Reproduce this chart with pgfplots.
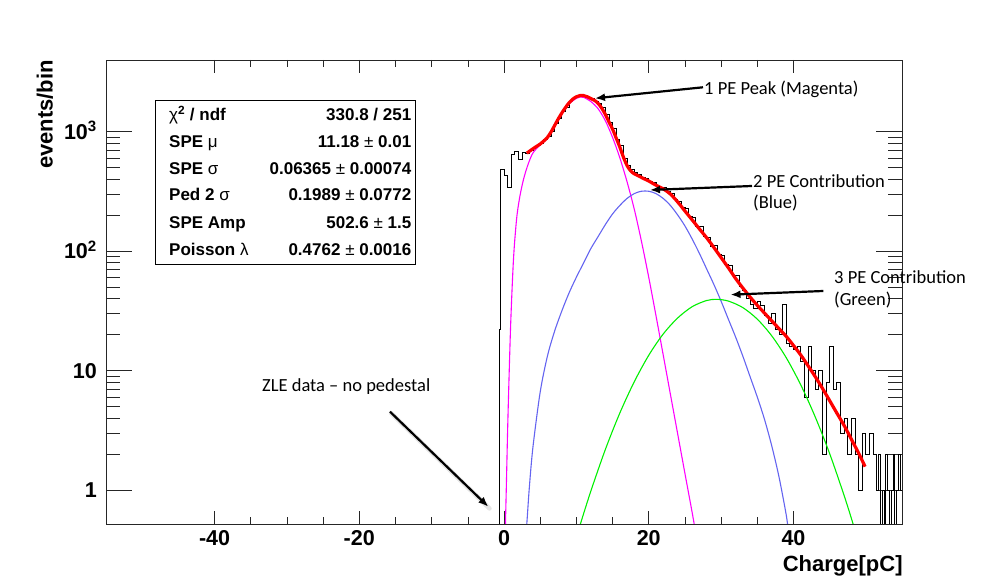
\documentclass[border=0pt]{standalone}
\usepackage{fontspec}
\setmainfont{Liberation Sans}
\newfontfamily\annfont{Carlito}
\usepackage{pgfplots}
\pgfplotsset{compat=1.18}
\usetikzlibrary{arrows.meta}

\definecolor{fitred}{RGB}{255,0,0}
\definecolor{pemag}{RGB}{255,0,255}
\definecolor{peblue}{RGB}{100,100,240}
\definecolor{pegreen}{RGB}{0,240,0}

% charge spectrum, 0.5 pC bins (left edge, events); 0.1 stands for an empty bin
\pgfplotstableread{
x y
-1.0 0.1
-0.65 3
-0.6 22
-0.55 180
-0.5 480
0.0 430
0.5 340
1.0 640
1.5 680
2.0 585
2.5 665
3.0 650
3.5 700
4.0 715
4.5 760
5.0 790
5.5 850
6.0 900
6.5 1000
7.0 1170
7.5 1280
8.0 1480
8.5 1600
9.0 1790
9.5 1880
10.0 1990
10.5 1970
11.0 2010
11.5 1920
12.0 1880
12.5 1790
13.0 1700
13.5 1580
14.0 1400
14.5 1180
15.0 1060
15.5 860
16.0 760
16.5 600
17.0 520
17.5 480
18.0 450
18.5 440
19.0 410
19.5 405
20.0 380
20.5 375
21.0 350
21.5 340
22.0 340
22.5 318
23.0 305
23.5 272
24.0 262
24.5 232
25.0 226
25.5 196
26.0 190
26.5 162
27.0 160
27.5 133
28.0 131
28.5 110
29.0 112
29.5 94
30.0 92
30.5 77
31.0 76
31.5 62
32.0 63
32.5 51
33.0 47
33.5 40
34.0 36
34.5 33
35.0 38
35.5 35
36.0 29
36.5 25
37.0 30
37.5 22
38.0 20
38.5 36
39.0 17
39.5 16
40.0 15
40.5 16
41.0 12
41.5 6
42.0 16
42.5 10
43.0 7
43.5 10
44.0 2
44.5 8
45.0 16
45.5 7
46.0 8
46.5 3
47.0 4
47.5 2
48.0 4
48.5 2
49.0 1
49.5 3
50.0 2
50.5 3
51.0 2
51.5 1
51.75 2
52.0 0.1
52.25 1
52.5 0.1
52.75 2
53.0 1
53.25 0.1
53.5 1
53.75 2
54.0 0.1
54.25 1
54.5 2
54.75 1
55.0 1
}\chargehist

\begin{document}
\begin{tikzpicture}
\useasboundingbox (0pt,0pt) rectangle (995pt,577pt);
\begin{axis}[
  at={(106pt,53pt)}, anchor=south west,
  width=796pt, height=464pt, scale only axis,
  xmin=-55, xmax=55,
  ymode=log, ymin=0.52, ymax=3960,
  clip mode=individual,
  axis line style={line width=0.8pt, black!85},
  xtick={-40,-20,0,20,40},
  xticklabels={-40,-20,0,20,40},
  minor x tick num=3,
  ytick={1,10,100,1000},
  yticklabels={1,10,10\textsuperscript{2},10\textsuperscript{3}},
  xtick style={black!85, line width=0.6pt, /pgfplots/major tick length=13pt, /pgfplots/minor tick length=7pt},
  ytick style={black!85, line width=0.6pt, /pgfplots/major tick length=26pt, /pgfplots/minor tick length=14pt},
  tick label style={font=\fontsize{21.5}{22}\selectfont\bfseries},
  xticklabel style={anchor=base, yshift=-22pt},
  yticklabel style={anchor=base east, yshift=-7.7pt, inner sep=0pt, xshift=-9pt},
  xlabel={Charge[pC]},
  xlabel style={at={(axis description cs:1.001,-0.1013)}, anchor=base east, inner sep=0pt, font=\fontsize{22}{22}\selectfont\bfseries},
  ylabel={events/bin},
  ylabel style={at={(axis description cs:-0.067,1.0)}, anchor=base east, inner sep=0pt, font=\fontsize{22}{22}\selectfont\bfseries},
]
% measured spectrum
\addplot[const plot, black, line width=0.8pt] table[x=x, y=y] {\chargehist};

% 1 PE component
\addplot[pemag, line width=1.1pt, smooth] coordinates {
(0.15,0.42) (0.2,0.52) (0.35,1.26) (0.5,3.16) (0.7,8.9) (0.9,22.4) (1.1,45.7)
(1.3,83) (1.5,126) (1.8,200) (2.2,288) (2.7,398) (3.3,525) (4.0,661) (5.0,770)
(6.0,875) (7.0,1100) (8.0,1400) (9.0,1700) (10.0,1890) (10.5,1940) (11.0,1928)
(12.0,1778) (13.0,1549) (14.0,1230) (15.0,891) (16.0,603) (17.0,380) (18.0,224)
(19.0,120) (20.0,60.3) (21.0,28.8) (22.0,13.5) (23.0,6.3) (24.0,2.95) (25.0,1.38)
(26.0,0.65) (26.4,0.47)
};
% 2 PE component
\addplot[peblue, line width=1.1pt, smooth] coordinates {
(3.0,0.42) (3.15,0.52) (3.5,1.05) (4.0,2.29) (5.0,6.6) (6.0,13.2) (7.0,21.4)
(8.0,31.6) (9.0,44.7) (10.0,60.3) (11.0,79.4) (12.0,104.7) (13.0,131.8) (14.0,166)
(15.0,204) (16.0,240) (17.0,275) (18.0,302) (19.0,316) (20.0,316) (21.0,302)
(22.0,275) (23.0,240) (24.0,200) (25.0,162) (26.0,126) (27.0,95.5) (28.0,70.8)
(29.0,52.5) (30.0,38.0) (31.0,26.9) (32.0,19.1) (33.0,13.2) (34.0,8.9) (35.0,6.0)
(36.0,3.9) (37.0,2.34) (38.0,1.29) (39.0,0.62) (39.3,0.45)
};
% 3 PE component
\addplot[pegreen, line width=1.1pt, smooth] coordinates {
(10.0,0.40) (10.6,0.53) (12.0,0.98) (14.0,2.18) (16.0,4.40) (18.0,8.05) (20.0,13.4)
(22.0,20.2) (24.0,27.5) (26.0,34.2) (28.0,38.5) (29.4,39.4) (31.0,38.1) (33.0,33.6)
(35.0,26.9) (37.0,19.5) (39.0,12.8) (41.0,7.6) (43.0,4.1) (45.0,2.02) (47.0,0.90)
(48.2,0.53) (49.0,0.36)
};
% total fit
\addplot[fitred, line width=3.2pt, smooth] coordinates {
(3.15,658) (4.0,716) (4.5,750) (5.0,785) (5.5,832) (6.0,891) (6.5,989) (7.0,1122)
(7.5,1274) (8.0,1429) (8.5,1585) (9.0,1738) (9.5,1862) (10.0,1950) (10.5,1995)
(11.0,1995) (11.5,1950) (12.0,1884) (12.5,1820) (13.0,1718) (13.5,1567) (14.0,1390)
(14.5,1202) (15.0,1047) (15.5,881) (16.0,741) (16.5,610) (17.0,519) (17.5,468)
(18.0,442) (18.5,427) (19.0,412) (19.5,398) (20.0,385) (21.0,355) (22.0,331)
(23.0,299) (24.0,257) (25.0,216) (26.0,182) (27.0,153) (28.0,129) (29.0,107)
(30.0,88.1) (31.0,72.4) (32.0,58.9) (33.0,49.0) (34.0,41.2) (35.0,35.1) (36.0,30.2)
(37.0,26.0) (38.0,22.4) (39.0,19.3) (40.0,16.2) (41.0,13.5) (42.0,11.0) (43.0,8.9)
(44.0,7.1) (45.0,5.6) (46.0,4.4) (47.0,3.47) (48.0,2.66) (49.0,2.04) (49.9,1.57)
};
\end{axis}

% fit statistics box
\draw[line width=0.8pt, fill=white] (155pt,313pt) rectangle (415pt,476.3pt);
\begin{scope}[every node/.style={inner sep=0pt, font=\fontsize{17}{20}\selectfont\bfseries}]
\node[anchor=base west] at (169pt,456pt) {{\mdseries χ}\textsuperscript{2} / ndf};
\node[anchor=base east] at (411.5pt,456pt) {330.8 / 251};
\node[anchor=base west] at (169pt,429.3pt) {SPE {\mdseries μ}};
\node[anchor=base east] at (411.5pt,429.3pt) {11.18 {\mdseries ±} 0.01};
\node[anchor=base west] at (169pt,402.7pt) {SPE {\mdseries σ}};
\node[anchor=base east] at (411.5pt,402.7pt) {0.06365 {\mdseries ±} 0.00074};
\node[anchor=base west] at (169pt,376pt) {Ped 2 {\mdseries σ}};
\node[anchor=base east] at (411.5pt,376pt) {0.1989 {\mdseries ±} 0.0772};
\node[anchor=base west] at (169pt,348.7pt) {SPE Amp};
\node[anchor=base east] at (411.5pt,348.7pt) {502.6 {\mdseries ±} 1.5};
\node[anchor=base west] at (169pt,321pt) {Poisson {\mdseries λ}};
\node[anchor=base east] at (411.5pt,321pt) {0.4762 {\mdseries ±} 0.0016};
\end{scope}

% annotations
\begin{scope}[every node/.style={inner sep=0pt, anchor=west, font=\annfont\fontsize{18.5}{20}\selectfont}]
\draw[line width=2.2pt, -{Latex[length=10pt,width=8pt]}] (703pt,489.7pt) -- (595pt,478.7pt);
\node at (704pt,488pt) {1 PE Peak (Magenta)};
\draw[line width=2.2pt, -{Latex[length=10pt,width=8pt]}] (752pt,391pt) -- (650pt,387pt);
\node at (753pt,396pt) {2 PE Contribution};
\node at (753pt,374pt) {(Blue)};
\draw[line width=2.2pt, -{Latex[length=10pt,width=8pt]}] (823.3pt,286pt) -- (730.5pt,282.3pt);
\node at (834pt,300pt) {3 PE Contribution};
\node at (834pt,277pt) {(Green)};
\draw[black!10, line width=4.5pt, line cap=round] (391pt,164pt) -- (489.5pt,68.5pt);
\draw[line width=2.2pt, -{Latex[length=10pt,width=8pt]}] (390pt,165.3pt) -- (488.3pt,70.3pt);
\node at (262pt,190pt) {ZLE data – no pedestal};
\end{scope}
\end{tikzpicture}
\end{document}
